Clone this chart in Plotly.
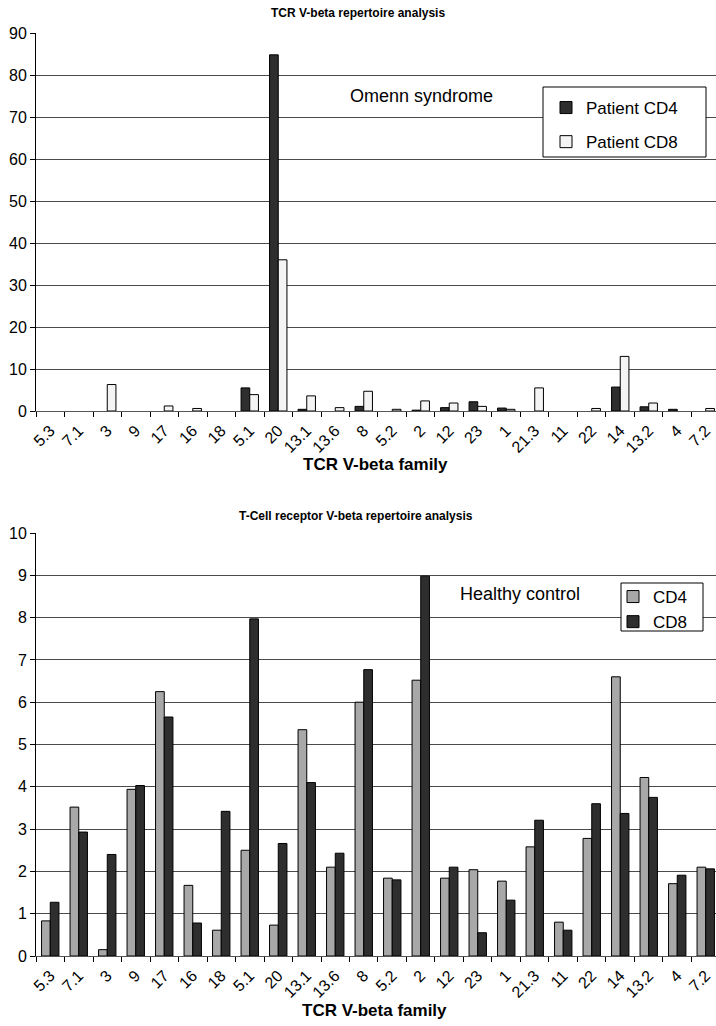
import plotly.graph_objects as go

families = ["5.3", "7.1", "3", "9", "17", "16", "18", "5.1", "20", "13.1", "13.6", "8",
            "5.2", "2", "12", "23", "1", "21.3", "11", "22", "14", "13.2", "4", "7.2"]

# Omenn syndrome patient (top chart)
patient_cd4 = [0, 0, 0, 0, 0, 0, 0, 5.5, 84.8, 0.4, 0, 1.1,
               0, 0.2, 0.8, 2.2, 0.7, 0, 0, 0, 5.7, 1.0, 0.4, 0]
patient_cd8 = [0, 0, 6.3, 0, 1.2, 0.6, 0, 3.9, 36.0, 3.6, 0.8, 4.7,
               0.4, 2.4, 1.9, 1.1, 0.4, 5.5, 0, 0.6, 13.0, 1.9, 0, 0.6]

# Healthy control (bottom chart)
control_cd4 = [0.83, 3.52, 0.15, 3.94, 6.25, 1.67, 0.61, 2.5, 0.73, 5.35, 2.1, 6.0,
               1.84, 6.52, 1.84, 2.04, 1.77, 2.58, 0.8, 2.78, 6.6, 4.22, 1.71, 2.1]
control_cd8 = [1.27, 2.93, 2.4, 4.03, 5.65, 0.78, 3.42, 7.97, 2.66, 4.1, 2.43, 6.77,
               1.8, 8.98, 2.1, 0.55, 1.32, 3.21, 0.61, 3.6, 3.37, 3.75, 1.91, 2.06]

W, H = 716, 1026
L = 36
PW = W - L

FONT = "Liberation Sans, Arial, sans-serif"
DARK = "#2e2e2e"
LIGHT = "#f4f4f4"
GREY = "#a8a8a8"
GRID = "#4a4a4a"


def px_(sx):
    return (sx - L) / PW


def py(sy):
    return 1 - sy / H


def nz(vals):
    # zero-valued families draw no bar
    return [v if v else None for v in vals]


fig = go.Figure()
line = dict(color="black", width=1)
fig.add_trace(go.Bar(x=families, y=nz(patient_cd4), name="Patient CD4", marker=dict(color=DARK, line=line),
                     xaxis="x", yaxis="y", legend="legend", legendgroup="a"))
fig.add_trace(go.Bar(x=families, y=nz(patient_cd8), name="Patient CD8", marker=dict(color=LIGHT, line=line),
                     xaxis="x", yaxis="y", legend="legend", legendgroup="b"))
fig.add_trace(go.Bar(x=families, y=control_cd4, name="CD4", marker=dict(color=GREY, line=line),
                     xaxis="x2", yaxis="y2", legend="legend2"))
fig.add_trace(go.Bar(x=families, y=control_cd8, name="CD8", marker=dict(color=DARK, line=line),
                     xaxis="x2", yaxis="y2", legend="legend2"))

xcommon = dict(type="category", range=[-0.5, 23.36], tickson="boundaries", ticks="outside",
               ticklen=5, tickcolor="black", tickangle=-45, showline=True, linecolor="#555555",
               linewidth=1, showgrid=False, automargin=False, ticklabelstandoff=3,
               tickfont=dict(family=FONT, size=16, color="black"))
ycommon = dict(ticks="outside", ticklen=5, tickcolor="black", showline=True, linecolor="black",
               linewidth=1, showgrid=True, gridcolor=GRID, gridwidth=1, zeroline=False,
               automargin=False, tickfont=dict(family=FONT, size=16, color="black"))

legfont = dict(family=FONT, size=17, color="black")

fig.update_layout(
    width=W, height=H,
    margin=dict(l=L, r=0, t=0, b=0),
    paper_bgcolor="white", plot_bgcolor="white",
    barmode="group", bargap=0.39, bargroupgap=0,
    font=dict(family=FONT, color="black"),
    xaxis=dict(domain=[0, 1], anchor="y", **xcommon),
    yaxis=dict(domain=[py(411), py(33)], anchor="x", range=[0, 90], dtick=10, **ycommon),
    xaxis2=dict(domain=[0, 1], anchor="y2", **xcommon),
    yaxis2=dict(domain=[py(956), py(533)], anchor="x2", range=[0, 10], dtick=1, **ycommon),
    legend=dict(x=px_(546), y=py(90), xref="paper", yref="paper", xanchor="left", yanchor="top",
                borderwidth=0, bgcolor="rgba(0,0,0,0)", font=legfont,
                traceorder="grouped", tracegroupgap=9),
    legend2=dict(x=px_(613), y=py(579), xref="paper", yref="paper", xanchor="left", yanchor="top",
                 borderwidth=0, bgcolor="rgba(0,0,0,0)", font=legfont, tracegroupgap=0),
    shapes=[
        dict(type="rect", xref="paper", yref="paper", x0=px_(543), x1=px_(706), y0=py(157), y1=py(87),
             line=dict(color="black", width=1), fillcolor="white", layer="above"),
        dict(type="rect", xref="paper", yref="paper", x0=px_(621), x1=px_(703), y0=py(631), y1=py(583),
             line=dict(color="black", width=1), fillcolor="white", layer="above"),
    ],
    annotations=[
        dict(text="<b>TCR V-beta repertoire analysis</b>", x=px_(358), y=py(13), xref="paper",
             yref="paper", showarrow=False, font=dict(family=FONT, size=12), xanchor="center", yanchor="middle"),
        dict(text="<b>TCR V-beta family</b>", x=px_(375), y=py(464), xref="paper",
             yref="paper", showarrow=False, font=dict(family=FONT, size=17), xanchor="center", yanchor="middle"),
        dict(text="Omenn syndrome", x=px_(421), y=py(96), xref="paper",
             yref="paper", showarrow=False, font=dict(family=FONT, size=18), xanchor="center", yanchor="middle"),
        dict(text="<b>T-Cell receptor V-beta repertoire analysis</b>", x=px_(356), y=py(516),
             xref="paper", yref="paper", showarrow=False, font=dict(family=FONT, size=12),
             xanchor="center", yanchor="middle"),
        dict(text="<b>TCR V-beta family</b>", x=px_(374), y=py(1010), xref="paper",
             yref="paper", showarrow=False, font=dict(family=FONT, size=17), xanchor="center", yanchor="middle"),
        dict(text="Healthy control", x=px_(520), y=py(594), xref="paper",
             yref="paper", showarrow=False, font=dict(family=FONT, size=18), xanchor="center", yanchor="middle"),
    ],
)

# remove the browser's default 8px page margin so the figure fills the window exactly
fig.write_html("out.html", config={"displayModeBar": False},
               post_script="document.body.style.margin='0px';")
